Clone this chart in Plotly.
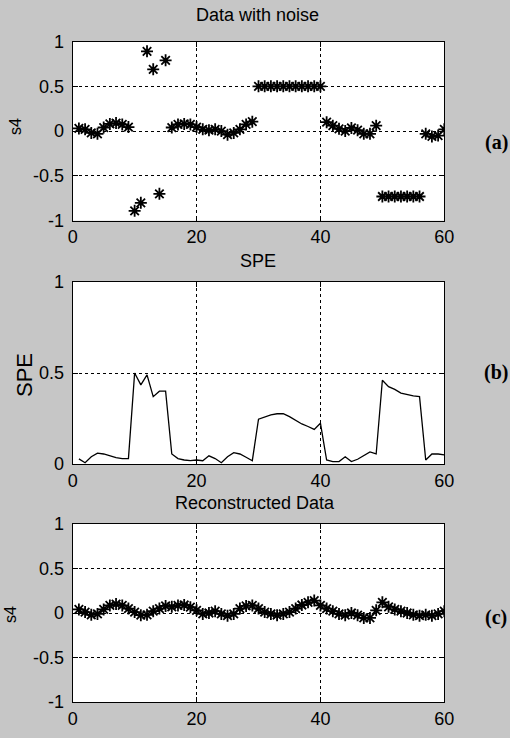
import plotly.graph_objects as go

# ---------------- data ----------------
x_idx = list(range(1, 61))

noisy_s4 = [0.03, 0.02, -0.02, -0.03, 0.04, 0.08, 0.09, 0.075, 0.045,
            -0.89, -0.80, 0.89, 0.69, -0.70, 0.79,
            0.04, 0.075, 0.08, 0.075, 0.045, 0.02, 0.01, 0.02, 0.0, -0.04,
            -0.02, 0.02, 0.075, 0.105,
            0.5, 0.5, 0.5, 0.5, 0.5, 0.5, 0.5, 0.5, 0.5, 0.5, 0.5,
            0.10, 0.06, 0.025, 0.0, 0.035, 0.01, -0.03, -0.03, 0.06,
            -0.73, -0.73, -0.73, -0.73, -0.73, -0.73, -0.73,
            -0.03, -0.06, -0.05, 0.02]

spe = [0.028, 0.007, 0.04, 0.06, 0.055, 0.045, 0.035, 0.03, 0.03,
       0.50, 0.435, 0.49, 0.37, 0.40, 0.40,
       0.055, 0.03, 0.022, 0.018, 0.022, 0.018, 0.045, 0.03, 0.007, 0.04,
       0.062, 0.055, 0.037, 0.018,
       0.246, 0.26, 0.27, 0.276, 0.276, 0.26, 0.24, 0.22, 0.206, 0.19, 0.224,
       0.022, 0.013, 0.013, 0.04, 0.013, 0.026, 0.044, 0.066, 0.055,
       0.46, 0.425, 0.41, 0.39, 0.38, 0.374, 0.37,
       0.022, 0.055, 0.055, 0.05]

recon_s4 = [0.04, 0.01, -0.02, -0.01, 0.04, 0.085, 0.10, 0.085, 0.05, 0.01,
            -0.025, -0.02, 0.02, 0.05, 0.08, 0.07, 0.085, 0.09, 0.065, 0.03,
            -0.01, 0.0, 0.02, -0.01, -0.03, -0.01, 0.05, 0.08, 0.085, 0.05,
            0.01, -0.01, -0.025, -0.01, 0.01, 0.05, 0.09, 0.12, 0.14, 0.085,
            0.05, 0.02, -0.01, -0.025, 0.0, -0.025, -0.055, -0.055, 0.03, 0.12,
            0.07, 0.04, 0.02, 0.0, -0.02, -0.03, -0.02, -0.03, -0.01, 0.02]

x_ticks = [0, 20, 40, 60]
x_ticktext = ["0", "20", "40", "60"]
s4_ticks = [-1, -0.5, 0, 0.5, 1]
s4_ticktext = ["-1", "-0.5", "0", "0.5", "1"]
spe_ticks = [0, 0.5, 1]
spe_ticktext = ["0", "0.5", "1"]

panel_titles = ["Data with noise", "SPE", "Reconstructed Data"]
panel_labels = ["(a)", "(b)", "(c)"]
y_titles = ["s4", "SPE", "s4"]

# ---------------- layout geometry ----------------
W, H = 510, 738
x_left, x_right = 72.7, 444.3
panels_px = [(41.5, 220.7), (282.0, 464.0), (524.0, 702.0)]

def ydom(top, bottom):
    return [1 - bottom / H, 1 - top / H]

xdom = [x_left / W, x_right / W]

fig = go.Figure()

mk = dict(symbol="asterisk-open", size=10, color="black",
          line=dict(color="black", width=1.8))

fig.add_trace(go.Scatter(x=x_idx, y=noisy_s4, mode="markers", marker=mk,
                         xaxis="x", yaxis="y", showlegend=False))
fig.add_trace(go.Scatter(x=x_idx, y=spe, mode="lines",
                         line=dict(color="black", width=1.3),
                         xaxis="x2", yaxis="y2", showlegend=False))
fig.add_trace(go.Scatter(x=x_idx, y=recon_s4, mode="markers", marker=mk,
                         xaxis="x3", yaxis="y3", showlegend=False))

tickfont = dict(family="Liberation Sans, Arial, sans-serif", size=18, color="black")

def xaxis_cfg(anchor):
    return dict(domain=xdom, range=[0, 60], anchor=anchor,
                tickvals=x_ticks, ticktext=x_ticktext,
                showgrid=True, gridcolor="black", griddash="dot", gridwidth=1,
                showline=True, linecolor="black", linewidth=1.2, mirror="ticks",
                ticks="inside", ticklen=5, tickcolor="black",
                zeroline=False, tickfont=tickfont, ticklabelstandoff=0,
                automargin=False)

def yaxis_cfg(anchor, dom, rng, tv, tt):
    return dict(domain=dom, range=rng, anchor=anchor,
                tickvals=tv, ticktext=tt,
                showgrid=True, gridcolor="black", griddash="dot", gridwidth=1,
                showline=True, linecolor="black", linewidth=1.2, mirror="ticks",
                ticks="inside", ticklen=5, tickcolor="black",
                zeroline=False, tickfont=tickfont, ticklabelstandoff=4,
                automargin=False)

fig.update_layout(
    width=W, height=H, autosize=False,
    margin=dict(l=0, r=0, t=0, b=0, pad=0),
    paper_bgcolor="#c6c6c6",
    plot_bgcolor="white",
    xaxis=xaxis_cfg("y"),
    yaxis=yaxis_cfg("x", ydom(*panels_px[0]), [-1, 1], s4_ticks, s4_ticktext),
    xaxis2=xaxis_cfg("y2"),
    yaxis2=yaxis_cfg("x2", ydom(*panels_px[1]), [0, 1], spe_ticks, spe_ticktext),
    xaxis3=xaxis_cfg("y3"),
    yaxis3=yaxis_cfg("x3", ydom(*panels_px[2]), [-1, 1], s4_ticks, s4_ticktext),
)

title_y_px = [15, 261, 503]
title_x_px = [257, 258, 255]
label_y_px = [142, 372, 617]
ytitle_px = [(15, 127, 16), (24, 375, 22), (10, 615, 16)]

ann = []
for i in range(3):
    ann.append(dict(text=panel_titles[i], x=title_x_px[i] / W, y=1 - title_y_px[i] / H,
                    xref="paper", yref="paper", showarrow=False,
                    xanchor="center", yanchor="middle", borderpad=0,
                    font=dict(family="Liberation Sans, Arial, sans-serif", size=18, color="black")))
    ann.append(dict(text="<b>" + panel_labels[i] + "</b>", x=496 / W, y=1 - label_y_px[i] / H,
                    xref="paper", yref="paper", showarrow=False,
                    xanchor="center", yanchor="middle",
                    font=dict(family="Liberation Serif, Times New Roman, serif", size=20, color="black")))
    xt, yt, fs = ytitle_px[i]
    ann.append(dict(text=y_titles[i], x=xt / W, y=1 - yt / H,
                    xref="paper", yref="paper", showarrow=False, textangle=-90,
                    xanchor="center", yanchor="middle",
                    font=dict(family="Liberation Sans, Arial, sans-serif", size=fs, color="black")))
fig.update_layout(annotations=ann)

fig.write_html(
    "out.html",
    config={"displayModeBar": False},
    post_script="document.body.style.margin='0px';document.body.style.padding='0px';"
                "document.documentElement.style.overflow='hidden';"
)
